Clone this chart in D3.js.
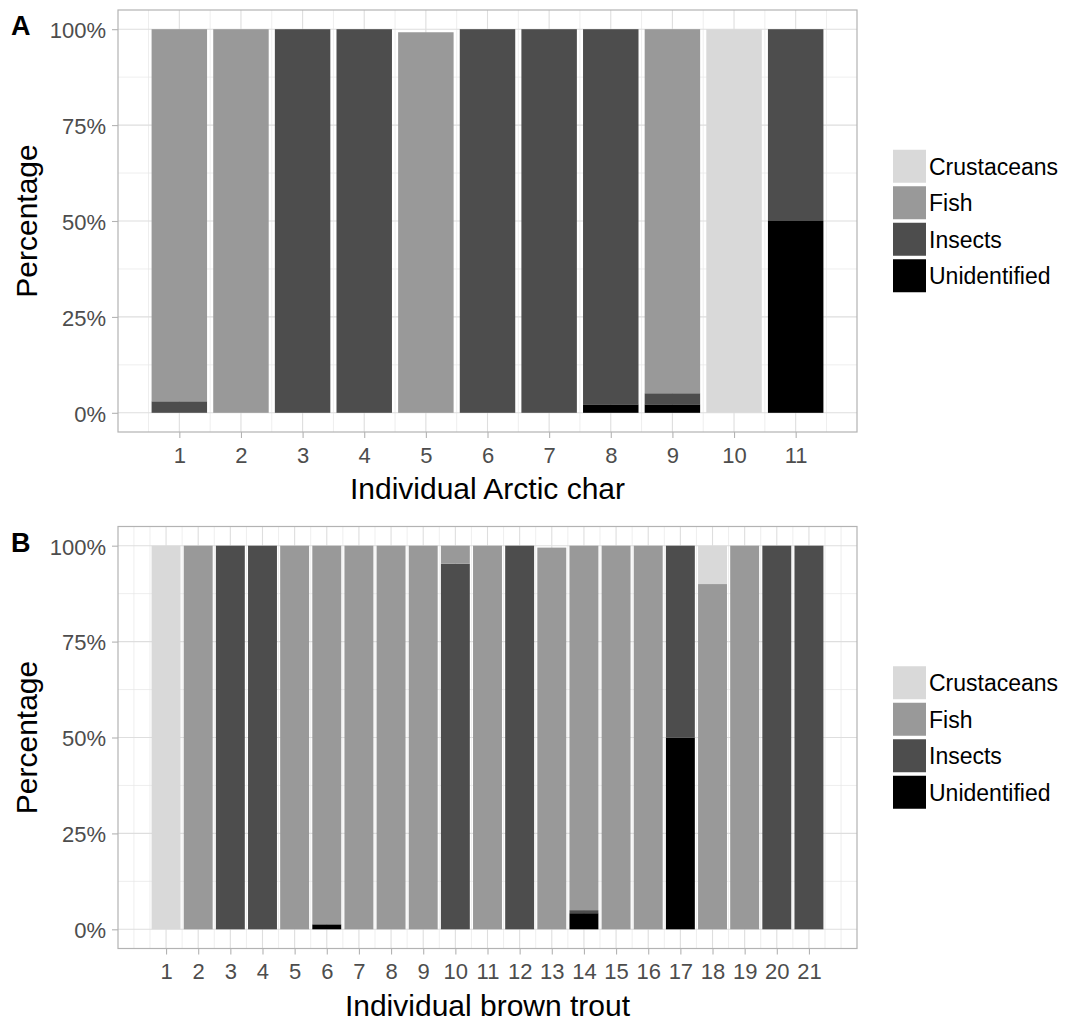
<!DOCTYPE html>
<html>
<head>
<meta charset="utf-8">
<script src="https://cdn.jsdelivr.net/npm/d3@7"></script>
<style>
  body { margin: 0; background: #fff; }
  text { font-family: "Liberation Sans", Arial, sans-serif; }
</style>
</head>
<body>
<div id="canvas"></div>
<script>
// diet categories, stacked from bottom up
const dietKeys = ["Unidentified", "Insects", "Fish", "Crustaceans"];
const legendKeys = ["Crustaceans", "Fish", "Insects", "Unidentified"];
const dietColors = ["#000000", "#4d4d4d", "#999999", "#d9d9d9"];
const yTicks = [0, 25, 50, 75, 100];

// A - Arctic char
const charIds = [1, 2, 3, 4, 5, 6, 7, 8, 9, 10, 11];
const charCrustaceans = [0, 0, 0, 0, 0, 0, 0, 0, 0, 100, 0];
const charFish = [97, 100, 0, 0, 99.2, 0, 0, 0, 94.9, 0, 0];
const charInsects = [3, 0, 100, 100, 0, 100, 100, 97.8, 2.9, 0, 50];
const charUnidentified = [0, 0, 0, 0, 0, 0, 0, 2.2, 2.2, 0, 50];

// B - brown trout
const troutIds = [1, 2, 3, 4, 5, 6, 7, 8, 9, 10, 11, 12, 13, 14, 15, 16, 17, 18, 19, 20, 21];
const troutCrustaceans = [100, 0, 0, 0, 0, 0, 0, 0, 0, 0, 0, 0, 0, 0, 0, 0, 0, 10, 0, 0, 0];
const troutFish = [0, 100, 0, 0, 100, 98.7, 100, 100, 100, 4.7, 100, 0, 99.5, 95, 100, 100, 0, 90, 100, 0, 0];
const troutInsects = [0, 0, 100, 100, 0, 0, 0, 0, 0, 95.3, 0, 100, 0, 0.8, 0, 0, 50, 0, 0, 100, 100];
const troutUnidentified = [0, 0, 0, 0, 0, 1.3, 0, 0, 0, 0, 0, 0, 0, 4.2, 0, 0, 50, 0, 0, 0, 0];

function buildRows(ids, crus, fish, ins, unid) {
    return ids.map((id, i) => ({
        id: id,
        Crustaceans: crus[i],
        Fish: fish[i],
        Insects: ins[i],
        Unidentified: unid[i]
    }));
}

const width = 1067;
const height = 1020;

const svg = d3.select("#canvas").append("svg")
    .attr("width", width)
    .attr("height", height);

const color = d3.scaleOrdinal().domain(dietKeys).range(dietColors);

function drawPanel(rows, opts) {
    const left = 118, right = 857;
    const top = opts.top, bottom = opts.top + 422;
    const n = rows.length;

    // continuous x with ggplot style 5% expansion around bar extents
    const span = n - 0.1;
    const x = d3.scaleLinear()
        .domain([0.55 - 0.05 * span, n + 0.45 + 0.05 * span])
        .range([left, right]);
    const y = d3.scaleLinear()
        .domain([-5, 105])
        .range([bottom, top]);

    const g = svg.append("g");

    // minor grid
    const xMinor = d3.range(0, n + 1.01, 0.5).filter(v => v % 1 !== 0 || v === 0 || v === n + 1)
        .filter(v => v >= x.domain()[0] && v <= x.domain()[1]);
    const yMinor = [12.5, 37.5, 62.5, 87.5];
    g.selectAll(".xminor").data(xMinor).enter().append("line")
        .attr("x1", d => x(d)).attr("x2", d => x(d))
        .attr("y1", top).attr("y2", bottom)
        .attr("stroke", "#e6e6e6").attr("stroke-width", 0.7);
    g.selectAll(".yminor").data(yMinor).enter().append("line")
        .attr("x1", left).attr("x2", right)
        .attr("y1", d => y(d)).attr("y2", d => y(d))
        .attr("stroke", "#e6e6e6").attr("stroke-width", 0.7);

    // major grid
    g.selectAll(".xmajor").data(rows.map(d => d.id)).enter().append("line")
        .attr("x1", d => x(d)).attr("x2", d => x(d))
        .attr("y1", top).attr("y2", bottom)
        .attr("stroke", "#dedede").attr("stroke-width", 1.1);
    g.selectAll(".ymajor").data(yTicks).enter().append("line")
        .attr("x1", left).attr("x2", right)
        .attr("y1", d => y(d)).attr("y2", d => y(d))
        .attr("stroke", "#dedede").attr("stroke-width", 1.1);

    // stacked bars
    const series = d3.stack().keys(dietKeys)(rows);
    g.selectAll(".layer").data(series).enter().append("g")
        .attr("fill", d => color(d.key))
        .selectAll("rect").data(d => d).enter().append("rect")
        .attr("x", d => x(d.data.id - 0.45))
        .attr("width", d => x(d.data.id + 0.45) - x(d.data.id - 0.45))
        .attr("y", d => y(d[1]))
        .attr("height", d => y(d[0]) - y(d[1]));

    // panel border
    g.append("rect")
        .attr("x", left).attr("y", top)
        .attr("width", right - left).attr("height", bottom - top)
        .attr("fill", "none").attr("stroke", "#b3b3b3").attr("stroke-width", 1.2);

    // axes
    const xAxis = g.append("g")
        .attr("transform", `translate(0,${bottom})`)
        .call(d3.axisBottom(x).tickValues(rows.map(d => d.id)).tickFormat(d3.format("d")).tickSize(6).tickPadding(9));
    xAxis.select(".domain").remove();
    xAxis.selectAll("line").attr("stroke", "#b3b3b3").attr("stroke-width", 1.1);
    xAxis.selectAll("text").attr("fill", "#4d4d4d").attr("font-size", 22)
        .attr("font-family", "Liberation Sans, Arial, sans-serif");

    const yAxis = g.append("g")
        .attr("transform", `translate(${left},0)`)
        .call(d3.axisLeft(y).tickValues(yTicks).tickFormat(d => d + "%").tickSize(6).tickPadding(6));
    yAxis.select(".domain").remove();
    yAxis.selectAll("line").attr("stroke", "#b3b3b3").attr("stroke-width", 1.1);
    yAxis.selectAll("text").attr("fill", "#4d4d4d").attr("font-size", 22)
        .attr("font-family", "Liberation Sans, Arial, sans-serif")
        .attr("dy", "0.38em");

    // titles
    g.append("text")
        .attr("x", (left + right) / 2).attr("y", bottom + 67)
        .attr("text-anchor", "middle").attr("font-size", 30).attr("fill", "#000")
        .text(opts.xTitle);
    g.append("text")
        .attr("transform", `translate(37,${(top + bottom) / 2}) rotate(-90)`)
        .attr("text-anchor", "middle").attr("font-size", 30).attr("fill", "#000")
        .text("Percentage");
    g.append("text")
        .attr("x", 11).attr("y", top + 25)
        .attr("font-size", 27).attr("font-weight", "bold").attr("fill", "#000")
        .text(opts.tag);

    // legend
    const keySize = 33, pitch = 36.5;
    const legTop = (top + bottom) / 2 - (pitch * 3 + keySize) / 2;
    const leg = g.append("g").attr("transform", `translate(893,${legTop})`);
    const items = leg.selectAll("g").data(legendKeys).enter().append("g")
        .attr("transform", (d, i) => `translate(0,${i * pitch})`);
    items.append("rect")
        .attr("width", keySize).attr("height", keySize)
        .attr("fill", d => color(d));
    items.append("text")
        .attr("x", 36).attr("y", keySize / 2).attr("dy", "0.36em")
        .attr("font-size", 23).attr("fill", "#000")
        .text(d => d);
}

drawPanel(buildRows(charIds, charCrustaceans, charFish, charInsects, charUnidentified),
    { top: 10, xTitle: "Individual Arctic char", tag: "A" });
drawPanel(buildRows(troutIds, troutCrustaceans, troutFish, troutInsects, troutUnidentified),
    { top: 526.5, xTitle: "Individual brown trout", tag: "B" });
</script>
</body>
</html>
